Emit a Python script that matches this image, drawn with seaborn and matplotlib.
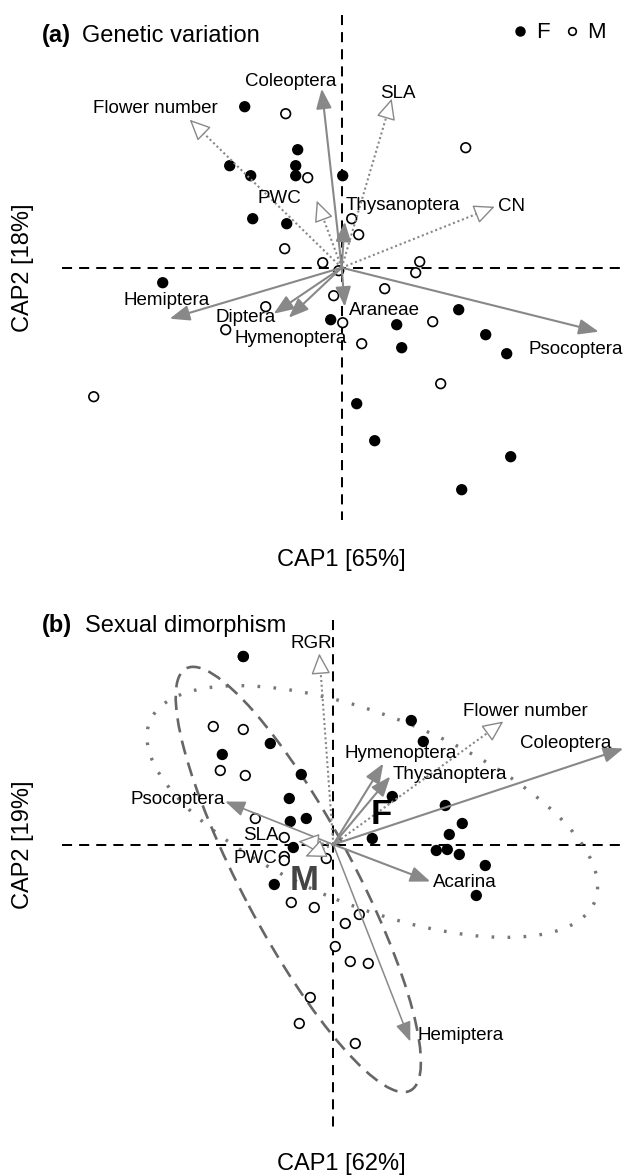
import matplotlib
matplotlib.use('Agg')
import matplotlib.pyplot as plt
import seaborn as sns
import pandas as pd
from matplotlib.patches import Ellipse
from matplotlib.lines import Line2D

# ---- panel (a): genetic variation ----
a_f_x = [-0.97, -0.44, -1.12, -0.46, -0.91, -0.46, 0.01, -0.89, -0.55, -1.79,
         -0.11, 1.17, 0.55, 1.44, 0.60, 1.65, 0.15, 0.33, 1.69, 1.20]
a_f_y = [1.61, 1.18, 1.02, 1.02, 0.92, 0.92, 0.92, 0.49, 0.44, -0.15,
         -0.52, -0.42, -0.57, -0.67, -0.80, -0.86, -1.36, -1.73, -1.89, -2.22]
a_m_x = [-0.56, -0.34, -0.57, -0.19, -0.03, -0.08, -0.76, -1.16, 1.24, 0.10,
         0.17, 0.78, 0.74, 0.43, 0.01, 0.91, 0.20, 0.99, -2.48]
a_m_y = [1.54, 0.90, 0.19, 0.05, -0.03, -0.28, -0.39, -0.62, 1.20, 0.49,
         0.33, 0.06, -0.05, -0.21, -0.55, -0.54, -0.76, -1.16, -1.29]

a_taxa = ['Coleoptera', 'Thysanoptera', 'Hemiptera', 'Diptera', 'Hymenoptera', 'Araneae', 'Psocoptera']
a_taxa_x = [-0.20, 0.03, -1.72, -0.68, -0.53, 0.03, 2.57]
a_taxa_y = [1.79, 0.46, -0.51, -0.46, -0.50, -0.39, -0.64]
a_traits = ['Flower number', 'SLA', 'PWC', 'CN']
a_traits_x = [-1.52, 0.50, -0.25, 1.53]
a_traits_y = [1.48, 1.69, 0.67, 0.61]

# ---- panel (b): sexual dimorphism ----
b_f_x = [-0.90, -0.63, -1.11, -0.32, -0.44, -0.27, -0.43, -0.40, -0.59, 0.78, 0.90,
         0.59, 1.12, 1.29, 1.16, 0.39, 1.03, 1.14, 1.26, 1.52, 1.43]
b_f_y = [1.88, 1.01, 0.90, 0.70, 0.46, 0.26, 0.23, -0.03, -0.40, 1.24, 1.03,
         0.48, 0.39, 0.21, 0.10, 0.06, -0.06, -0.05, -0.10, -0.21, -0.51]
b_m_x = [-0.90, -1.20, -0.90, -1.13, -0.88, -0.78, -0.49, -0.49, -0.49, -0.07, -0.42,
         -0.19, 0.26, 0.12, 0.02, 0.17, 0.35, -0.23, -0.34, 0.22]
b_m_y = [1.88, 1.18, 1.15, 0.74, 0.69, 0.26, 0.07, -0.12, -0.16, -0.14, -0.58,
         -0.63, -0.70, -0.79, -1.02, -1.17, -1.19, -1.53, -1.79, -1.99]

b_taxa = ['Psocoptera', 'Hymenoptera', 'Thysanoptera', 'Coleoptera', 'Acarina', 'Hemiptera']
b_taxa_x = [-1.08, 0.50, 0.57, 2.90, 0.97, 0.77]
b_taxa_y = [0.43, 0.81, 0.68, 0.96, -0.37, -1.97]
b_traits = ['RGR', 'Flower number', 'SLA', 'PWC']
b_traits_x = [-0.14, 1.70, -0.35, -0.28]
b_traits_y = [1.91, 1.23, 0.03, -0.12]

GREY = '#888888'
FS = 13.5

sns.set_style('white')
plt.rcParams['font.family'] = ['Liberation Sans', 'DejaVu Sans']
plt.rcParams['text.color'] = 'black'

fig = plt.figure(figsize=(6.25, 11.76), dpi=100)
ax_a = fig.add_axes([0, 0.5, 1, 0.5])
ax_b = fig.add_axes([0, 0, 1, 0.5])


def scores(fx, fy, mx, my):
    m = pd.DataFrame({'x': mx, 'y': my, 'sex': 'M'})
    f = pd.DataFrame({'x': fx, 'y': fy, 'sex': 'F'})
    return pd.concat([m, f], ignore_index=True)


def cross(ax, xr, yr):
    ls = (0, (5, 3.5))
    ax.plot(xr, [0, 0], color='black', lw=1.45, ls=ls, zorder=1)
    ax.plot([0, 0], yr, color='black', lw=1.45, ls=ls, zorder=1)


def solid_arrow(ax, x, y, lw=1.5):
    ax.annotate('', xy=(x, y), xytext=(0, 0), zorder=4,
                arrowprops=dict(arrowstyle='-|>,head_length=1.2,head_width=0.47',
                                color=GREY, lw=lw, shrinkA=0, shrinkB=0, mutation_scale=10))


def open_arrow(ax, x, y):
    L = (x ** 2 + y ** 2) ** 0.5
    k = max(0.0, 1 - 0.17 / L)
    ax.plot([0, x * k], [0, y * k], color=GREY, lw=1.5, ls=(0, (1, 1.3)), zorder=4)
    ax.annotate('', xy=(x, y), xytext=(x * k, y * k), zorder=4,
                arrowprops=dict(arrowstyle='-|>,head_length=1.3,head_width=0.6',
                                facecolor='white', edgecolor=GREY, lw=1,
                                shrinkA=0, shrinkB=0, mutation_scale=10))


def label(ax, name, x, y, off, ha='center'):
    ax.annotate(name, xy=(x, y), xytext=off, textcoords='offset points',
                ha=ha, va='center', fontsize=FS, color='black', zorder=5)


def points(ax, df):
    sns.scatterplot(data=df, x='x', y='y', hue='sex', palette={'F': 'black', 'M': 'white'},
                    edgecolor='black', linewidth=1.2, s=48, legend=False, ax=ax, zorder=3)


# panel a
cross(ax_a, [-2.80, 2.84], [2.53, -2.52])
points(ax_a, scores(a_f_x, a_f_y, a_m_x, a_m_y))
a_taxa_off = [((-22, 5.3), 'center'), ((1, 12), 'left'), ((-2, 13.2), 'center'),
              ((-20.4, -2.7), 'center'), ((1.2, -14.9), 'center'), ((3.4, -2.4), 'left'),
              ((-16.8, -12.5), 'center')]
for n, x, y, (off, ha) in zip(a_taxa, a_taxa_x, a_taxa_y, a_taxa_off):
    solid_arrow(ax_a, x, y)
    label(ax_a, n, x, y, off, ha)
a_traits_off = [((-24.5, 7.9), 'center'), ((4.5, 3.8), 'center'), ((-27.1, 1.9), 'center'),
                ((2.2, 0.5), 'left')]
for n, x, y, (off, ha) in zip(a_traits, a_traits_x, a_traits_y, a_traits_off):
    open_arrow(ax_a, x, y)
    label(ax_a, n, x, y, off, ha)
ax_a.set_xlim(-3.417, 2.833)
ax_a.set_ylim(-3.203, 2.677)
ax_a.axis('off')

handles = [Line2D([], [], marker='o', ls='', mfc='black', mec='black', ms=6.5),
           Line2D([], [], marker='o', ls='', mfc='white', mec='black', ms=5.5, mew=1.2)]
ax_a.legend(handles, ['F', 'M'], ncol=2, frameon=False, fontsize=16,
            loc='center right', bbox_to_anchor=(606 / 625, 1 - 33 / 1176),
            bbox_transform=fig.transFigure, borderpad=0, borderaxespad=0,
            handlelength=0.6, handletextpad=0.4, columnspacing=0.7)

# panel b
ax_b.add_patch(Ellipse((0.39, 0.33), 4.8, 1.9, angle=-22, fill=False, ec='#777777',
                       lw=2.4, ls=(0, (0.8, 4)), zorder=2))
ax_b.add_patch(Ellipse((-0.35, -0.35), 4.78, 1.12, angle=-62, fill=False, ec='#666666',
                       lw=1.9, ls=(0, (5.4, 3.2)), zorder=2))
cross(ax_b, [-2.71, 2.92], [2.245, -2.82])
points(ax_b, scores(b_f_x, b_f_y, b_m_x, b_m_y))
b_taxa_off = [((-34.3, 1.2), 'center'), ((-27.6, 7.4), 'left'), ((1.4, 1.2), 'left'),
              ((-41.3, 3.8), 'center'), ((2.2, -0.9), 'left'), ((5, 4.1), 'left')]
b_taxa_lw = [1.2, 1.5, 1.5, 1.5, 1.5, 1.1]
for n, x, y, (off, ha), lw in zip(b_taxa, b_taxa_x, b_taxa_y, b_taxa_off, b_taxa_lw):
    solid_arrow(ax_b, x, y, lw)
    label(ax_b, n, x, y, off, ha)
b_traits_off = [((-6, 7.4), 'center'), ((15.6, 7), 'center'), ((-26.9, 4.1), 'center'),
                ((-36, -1.4), 'center')]
for n, x, y, (off, ha) in zip(b_traits, b_traits_x, b_traits_y, b_traits_off):
    open_arrow(ax_b, x, y)
    label(ax_b, n, x, y, off, ha)
ax_b.text(0.477, 0.295, 'F', fontsize=25, weight='bold', color='black',
          ha='center', va='center', zorder=5)
ax_b.text(-0.293, -0.355, 'M', fontsize=25, weight='bold', color='#444444',
          ha='center', va='center', zorder=5)
ax_b.set_xlim(-3.333, 2.917)
ax_b.set_ylim(-3.315, 2.565)
ax_b.axis('off')

# titles and axis labels
H = 1176.0
fig.text(42 / 625, 1 - 41.7 / H, '(a)', fontsize=17, weight='bold', va='baseline')
fig.text(82 / 625, 1 - 41.7 / H, 'Genetic variation', fontsize=17, va='baseline')
fig.text(42 / 625, 1 - 632 / H, '(b)', fontsize=17, weight='bold', va='baseline')
fig.text(85 / 625, 1 - 632 / H, 'Sexual dimorphism', fontsize=17, va='baseline')
fig.text(341.7 / 625, 1 - 560 / H, 'CAP1 [65%]', fontsize=17, ha='center', va='center')
fig.text(341.7 / 625, 1 - 1164 / H, 'CAP1 [62%]', fontsize=17, ha='center', va='center')
fig.text(22.5 / 625, 1 - 268 / H, 'CAP2 [18%]', fontsize=17, rotation=90, ha='center', va='center')
fig.text(22.5 / 625, 1 - 845 / H, 'CAP2 [19%]', fontsize=17, rotation=90, ha='center', va='center')

fig.savefig('out.png', dpi=100)
